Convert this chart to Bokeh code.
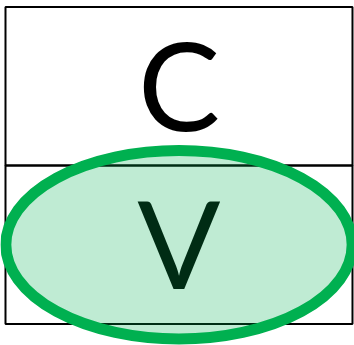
from bokeh.plotting import figure
from bokeh.models import Range1d
from bokeh.core.properties import value
from bokeh.embed import file_html
from bokeh.resources import INLINE

# Data: one column of letter cells, the highlighted one is circled
letters = ["C", "V"]
rows = [0, 1]
highlighted = ["V"]

GREEN = "#00b050"

p = figure(width=354, height=345, output_backend="svg", toolbar_location=None,
           x_range=Range1d(-0.0144, 1.0058), y_range=Range1d(2.1356, -0.041),
           x_axis_location=None, y_axis_location=None, min_border=0)
p.grid.visible = False
p.outline_line_color = None
p.background_fill_color = "white"
p.border_fill_color = "white"

# cell boxes
p.quad(left=[0] * len(rows), right=[1] * len(rows),
       top=rows, bottom=[r + 1 for r in rows],
       fill_color=None, line_color="black", line_width=2)

# letters
p.text(x=[0.5] * len(letters), y=[r + 0.5 for r in rows], text=letters,
       text_align="center", text_baseline="alphabetic", y_offset=-3,
       text_font=value("Lato"), text_font_size=value("123px"),
       text_color="black")

# highlight ellipse
hx = [0.5 for l in letters if l in highlighted]
hy = [r + 0.5 for l, r in zip(letters, rows) if l in highlighted]
p.ellipse(x=hx, y=hy, width=[0.998] * len(hx), height=[1.19] * len(hy),
          fill_color=GREEN, fill_alpha=0.25,
          line_color=GREEN, line_width=11)

open("out.html", "w").write(file_html(p, INLINE))
